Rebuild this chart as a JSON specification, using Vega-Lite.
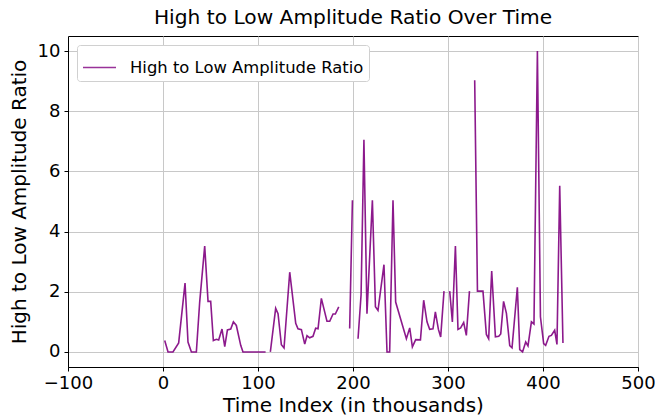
{
  "$schema": "https://vega.github.io/schema/vega-lite/v6.json",
  "autosize": {"type": "none"},
  "width": 570,
  "height": 331,
  "padding": {"left": 68, "top": 36, "right": 17, "bottom": 50},
  "background": "white",
  "title": {
    "text": "High to Low Amplitude Ratio Over Time",
    "font": "DejaVu Sans",
    "fontSize": 20.2,
    "fontWeight": "normal",
    "color": "black",
    "anchor": "middle",
    "offset": 8
  },
  "config": {
    "font": "DejaVu Sans",
    "view": {"stroke": "black", "strokeWidth": 1},
    "axis": {
      "domainColor": "black",
      "tickColor": "black",
      "tickSize": 4,
      "labelFont": "DejaVu Sans",
      "labelFontSize": 18,
      "labelColor": "black",
      "labelFlush": false,
      "titleFont": "DejaVu Sans",
      "titleFontSize": 20,
      "titleFontWeight": "normal",
      "titleColor": "black",
      "gridColor": "#c8c8c8",
      "gridWidth": 1
    }
  },
  "data": {
    "values": [
      {"t": 1.8, "ratio": 0.38},
      {"t": 5.3, "ratio": 0},
      {"t": 10.5, "ratio": 0},
      {"t": 16.5, "ratio": 0.3},
      {"t": 23.2, "ratio": 2.29},
      {"t": 26.3, "ratio": 0.33},
      {"t": 29.9, "ratio": 0},
      {"t": 35.1, "ratio": 0},
      {"t": 38.6, "ratio": 1.65},
      {"t": 43.9, "ratio": 3.52},
      {"t": 47.4, "ratio": 1.68},
      {"t": 50.2, "ratio": 1.68},
      {"t": 53.0, "ratio": 0.38},
      {"t": 56.2, "ratio": 0.42},
      {"t": 58.6, "ratio": 0.4},
      {"t": 62.1, "ratio": 0.76},
      {"t": 65.0, "ratio": 0.18},
      {"t": 67.8, "ratio": 0.73},
      {"t": 71.3, "ratio": 0.76},
      {"t": 74.1, "ratio": 1.0},
      {"t": 77.2, "ratio": 0.88},
      {"t": 81.8, "ratio": 0.22},
      {"t": 84.2, "ratio": 0},
      {"t": 90.0, "ratio": 0},
      {"t": 96.0, "ratio": 0},
      {"t": 102.0, "ratio": 0},
      {"t": 108.0, "ratio": 0},
      {"t": 110.5, "ratio": null},
      {"t": 113.0, "ratio": 0},
      {"t": 118.6, "ratio": 1.45},
      {"t": 121.1, "ratio": 1.27},
      {"t": 124.6, "ratio": 0.24},
      {"t": 127.4, "ratio": 0.13},
      {"t": 133.4, "ratio": 2.65},
      {"t": 139.7, "ratio": 0.95},
      {"t": 142.1, "ratio": 0.77},
      {"t": 145.7, "ratio": 0.74},
      {"t": 149.2, "ratio": 0.26},
      {"t": 151.6, "ratio": 0.54},
      {"t": 154.4, "ratio": 0.47},
      {"t": 157.9, "ratio": 0.52},
      {"t": 160.7, "ratio": 0.79},
      {"t": 163.2, "ratio": 0.77},
      {"t": 166.7, "ratio": 1.78},
      {"t": 172.6, "ratio": 1.02},
      {"t": 175.5, "ratio": 1.02},
      {"t": 179.0, "ratio": 1.26},
      {"t": 181.4, "ratio": 1.26},
      {"t": 185.0, "ratio": 1.5},
      {"t": 190.0, "ratio": null},
      {"t": 196.5, "ratio": 0.78},
      {"t": 199.4, "ratio": 5.04},
      {"t": 202.5, "ratio": null},
      {"t": 205.3, "ratio": 0.44},
      {"t": 208.5, "ratio": 1.9},
      {"t": 211.5, "ratio": 7.05},
      {"t": 214.7, "ratio": 1.27},
      {"t": 220.4, "ratio": 5.04},
      {"t": 223.6, "ratio": 1.5},
      {"t": 226.3, "ratio": 1.38},
      {"t": 232.6, "ratio": 2.9},
      {"t": 235.8, "ratio": 0},
      {"t": 238.6, "ratio": 0},
      {"t": 242.1, "ratio": 5.04},
      {"t": 244.9, "ratio": 1.66},
      {"t": 256.2, "ratio": 0.44},
      {"t": 259.7, "ratio": 0.8},
      {"t": 262.5, "ratio": 0.17},
      {"t": 266.0, "ratio": 0.41},
      {"t": 271.0, "ratio": 0.4},
      {"t": 274.4, "ratio": 1.72},
      {"t": 277.9, "ratio": 1.0},
      {"t": 280.7, "ratio": 0.75},
      {"t": 284.2, "ratio": 0.77},
      {"t": 286.7, "ratio": 1.33},
      {"t": 289.9, "ratio": 0.75},
      {"t": 292.3, "ratio": 0.5},
      {"t": 295.8, "ratio": 2.02},
      {"t": 298.8, "ratio": null},
      {"t": 301.8, "ratio": 2.02},
      {"t": 304.6, "ratio": 1.0},
      {"t": 307.8, "ratio": 3.52},
      {"t": 310.5, "ratio": 0.75},
      {"t": 313.3, "ratio": 0.8},
      {"t": 316.5, "ratio": 0.98},
      {"t": 319.3, "ratio": 0.55},
      {"t": 322.6, "ratio": 2.02},
      {"t": 325.5, "ratio": null},
      {"t": 328.1, "ratio": 9.03},
      {"t": 331.0, "ratio": 2.02},
      {"t": 336.8, "ratio": 2.02},
      {"t": 340.4, "ratio": 0.58},
      {"t": 342.8, "ratio": 0.44},
      {"t": 346.0, "ratio": 2.69},
      {"t": 349.9, "ratio": 0.5},
      {"t": 353.4, "ratio": 0.52},
      {"t": 355.5, "ratio": 0.6},
      {"t": 358.5, "ratio": 1.68},
      {"t": 361.5, "ratio": 1.28},
      {"t": 365.0, "ratio": 0.21},
      {"t": 367.4, "ratio": 0.14},
      {"t": 373.0, "ratio": 2.15},
      {"t": 375.5, "ratio": 0.08},
      {"t": 378.5, "ratio": 0},
      {"t": 381.8, "ratio": 0.33},
      {"t": 384.2, "ratio": 0.2},
      {"t": 387.8, "ratio": 1.0},
      {"t": 390.5, "ratio": 0.93},
      {"t": 394.1, "ratio": 10.0},
      {"t": 397.3, "ratio": 1.17},
      {"t": 400.7, "ratio": 0.28},
      {"t": 402.8, "ratio": 0.22},
      {"t": 406.3, "ratio": 0.52},
      {"t": 408.8, "ratio": 0.55},
      {"t": 412.3, "ratio": 0.72},
      {"t": 414.7, "ratio": 0.25},
      {"t": 417.6, "ratio": 5.52},
      {"t": 421.0, "ratio": 0.3}
    ]
  },
  "mark": {
    "type": "line",
    "strokeWidth": 1.6,
    "opacity": 0.9,
    "invalid": "break-paths-filter-domains",
    "clip": true
  },
  "encoding": {
    "x": {
      "field": "t",
      "type": "quantitative",
      "scale": {"domain": [-100, 500], "nice": false, "zero": false},
      "axis": {
        "title": "Time Index (in thousands)",
        "values": [-100, 0, 100, 200, 300, 400, 500],
        "labelPadding": 3,
        "labelFlush": false,
        "titlePadding": 3,
        "grid": true
      }
    },
    "y": {
      "field": "ratio",
      "type": "quantitative",
      "scale": {"domain": [-0.5, 10.5], "nice": false, "zero": false},
      "axis": {
        "title": "High to Low Amplitude Ratio",
        "values": [0, 2, 4, 6, 8, 10],
        "labelPadding": 4,
        "labelFlush": false,
        "titlePadding": 8,
        "grid": true
      }
    },
    "color": {
      "datum": "High to Low Amplitude Ratio",
      "type": "nominal",
      "scale": {"range": ["purple"]},
      "legend": {
        "title": null,
        "orient": "top-left",
        "offset": 9,
        "symbolType": "stroke",
        "symbolSize": 1089,
        "symbolStrokeWidth": 1.6,
        "symbolOpacity": 0.8,
        "labelFont": "DejaVu Sans",
        "labelFontSize": 16.4,
        "labelColor": "black",
        "labelLimit": 500,
        "labelOffset": 13,
        "padding": 5,
        "strokeColor": "#d0d0d0",
        "fillColor": "white",
        "cornerRadius": 3
      }
    }
  }
}
